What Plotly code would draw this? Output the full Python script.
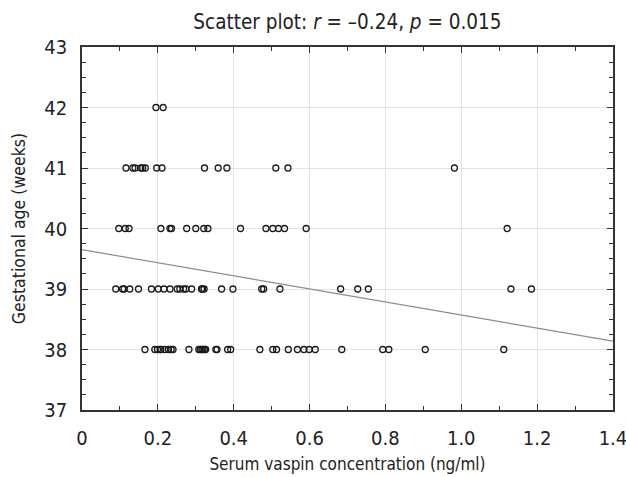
import plotly.graph_objects as go

# vaspin (ng/ml) per gestational-age row
vaspin_42 = [0.195, 0.214]
vaspin_41 = [0.116, 0.134, 0.140, 0.155, 0.160, 0.167, 0.197, 0.211, 0.323, 0.359,
             0.382, 0.511, 0.543, 0.982]
vaspin_40 = [0.097, 0.114, 0.124, 0.208, 0.232, 0.236, 0.276, 0.300, 0.321, 0.332,
             0.418, 0.485, 0.503, 0.518, 0.534, 0.591, 1.121]
vaspin_39 = [0.089, 0.107, 0.111, 0.126, 0.149, 0.183, 0.201, 0.216, 0.232, 0.251,
             0.258, 0.268, 0.274, 0.289, 0.315, 0.318, 0.322, 0.368, 0.398, 0.474,
             0.479, 0.522, 0.682, 0.727, 0.755, 1.131, 1.185]
vaspin_38 = [0.166, 0.192, 0.199, 0.206, 0.208, 0.218, 0.228, 0.235, 0.240, 0.282,
             0.308, 0.312, 0.316, 0.319, 0.323, 0.326, 0.353, 0.356, 0.384, 0.392,
             0.469, 0.503, 0.513, 0.544, 0.568, 0.585, 0.599, 0.615, 0.685, 0.793,
             0.809, 0.905, 1.112]

rows = {42: vaspin_42, 41: vaspin_41, 40: vaspin_40, 39: vaspin_39, 38: vaspin_38}

# regression line
fit_intercept = 39.65
fit_slope = -1.08
fit_x = [0, 1.4]

x_ticks = [0, 0.2, 0.4, 0.6, 0.8, 1.0, 1.2, 1.4]
x_ticktext = ["0", "0.2", "0.4", "0.6", "0.8", "1.0", "1.2", "1.4"]
y_ticks = [37, 38, 39, 40, 41, 42, 43]

xs, ys = [], []
for week, vals in rows.items():
    xs += vals
    ys += [week] * len(vals)

font_fam = "DejaVu Sans Condensed, Liberation Sans Narrow, Roboto, sans-serif"

fig = go.Figure()
fig.add_trace(go.Scatter(
    x=fit_x, y=[fit_intercept + fit_slope * v for v in fit_x],
    mode="lines", line=dict(color="#8c8c8c", width=1.2),
    hoverinfo="skip", showlegend=False, cliponaxis=False))
fig.add_trace(go.Scatter(
    x=xs, y=ys, mode="markers",
    marker=dict(symbol="circle-open", size=6, color="#1a1a1a", line=dict(width=1.3)),
    showlegend=False))

axis_common = dict(
    showgrid=True, gridcolor="#e3e3e3", gridwidth=1,
    showline=True, linecolor="#333333", linewidth=1.5, mirror="ticks",
    ticks="inside", ticklen=6, tickcolor="#333333", tickwidth=1.2,
    zeroline=False, automargin=False, ticklabeloverflow="allow",
    tickfont=dict(family=font_fam, size=20, color="#222222"),
)

fig.update_xaxes(
    range=[0, 1.4001], tickvals=x_ticks, ticktext=x_ticktext, ticklabelstandoff=9,
    minor=dict(ticks="inside", dtick=0.1, tick0=0, ticklen=4, tickcolor="#333333", showgrid=False),
    title=dict(text="Serum vaspin concentration (ng/ml)",
               font=dict(family=font_fam, size=17, color="#222222"), standoff=9),
    **axis_common)
fig.update_yaxes(
    range=[37, 43.0001], tickvals=y_ticks, ticklabelstandoff=9,
    minor=dict(ticks="inside", dtick=0.25, tick0=37, ticklen=4, tickcolor="#333333", showgrid=False),
    title=dict(text="Gestational age (weeks)",
               font=dict(family=font_fam, size=17.5, color="#222222"), standoff=14),
    **axis_common)

fig.update_layout(
    width=626, height=477,
    margin=dict(l=82, r=13, t=47, b=67),
    paper_bgcolor="white", plot_bgcolor="white",
    title=dict(text="Scatter plot: <i>r</i> = –0.24, <i>p</i> = 0.015",
               x=0.555, xanchor="center", y=0.954, yanchor="middle",
               font=dict(family=font_fam, size=20.5, color="#222222")),
)

fig.write_html("out.html", config={"displayModeBar": False},
               post_script="document.body.style.margin='0';")
